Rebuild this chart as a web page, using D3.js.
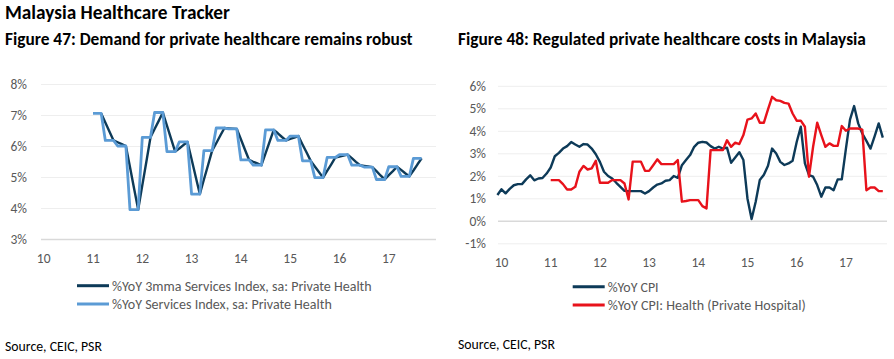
<!DOCTYPE html>
<html><head><meta charset="utf-8">
<script src="https://cdn.jsdelivr.net/npm/d3@7"></script>
<style>
body{margin:0;background:#fff;}
svg text{font-family: Carlito, Lato, "Open Sans", sans-serif;}
</style></head><body>
<svg id="c" width="894" height="359"></svg>
<script>
// ---------- DATA ----------
const yearLabels = ["10","11","12","13","14","15","16","17"];
const leftYTicks = [3,4,5,6,7,8];
const rightYTicks = [-1,0,1,2,3,4,5,6];

// Figure 47 (monthly, from Jan 2011)
const servicesStart = "2011-01";
const services3mma = [null,null,7.05,6.76,6.47,6.18,6.12,6.06,6.00,5.32,4.63,3.95,
  4.73,5.50,6.28,6.55,6.81,7.08,6.66,6.24,5.82,5.92,6.03,6.13,
  5.57,5.01,4.45,4.92,5.38,5.85,6.09,6.34,6.58,6.57,6.56,6.55,
  6.22,5.88,5.55,5.49,5.44,5.38,5.76,6.14,6.52,6.41,6.29,6.18,
  6.23,6.27,6.32,6.05,5.79,5.52,5.34,5.16,4.98,5.20,5.41,5.63,
  5.66,5.69,5.72,5.61,5.49,5.38,5.36,5.34,5.32,5.19,5.05,4.92,
  5.06,5.19,5.33,5.23,5.12,5.02,5.21,5.41,5.60];
const servicesIdx = [7.05,7.05,7.05,6.18,6.18,6.18,6.00,6.00,6.00,3.95,3.95,3.95,
  6.28,6.28,6.28,7.08,7.08,7.08,5.82,5.82,5.82,6.13,6.13,6.13,
  4.45,4.45,4.45,5.85,5.85,5.85,6.58,6.58,6.58,6.55,6.55,6.55,
  5.55,5.55,5.55,5.38,5.38,5.38,6.52,6.52,6.52,6.18,6.18,6.18,
  6.32,6.32,6.32,5.52,5.52,5.52,4.98,4.98,4.98,5.63,5.63,5.63,
  5.72,5.72,5.72,5.38,5.38,5.38,5.32,5.32,5.32,4.92,4.92,4.92,
  5.33,5.33,5.33,5.02,5.02,5.02,5.60,5.60,5.60];

// Figure 48 (monthly)
const cpiStart = "2009-12";
const cpi = [1.15,
  1.40,1.22,1.42,1.58,1.63,1.63,1.84,2.02,1.80,1.88,1.90,2.10,
  2.37,2.87,3.02,3.21,3.32,3.50,3.39,3.29,3.41,3.39,3.21,2.96,
  2.62,2.18,1.99,1.88,1.69,1.51,1.33,1.32,1.32,1.32,1.32,1.21,
  1.32,1.48,1.61,1.66,1.78,1.81,1.99,1.91,2.47,2.70,2.92,3.29,
  3.47,3.51,3.48,3.32,3.21,3.29,3.21,3.25,2.58,2.81,3.05,2.70,
  0.98,0.08,0.85,1.81,2.05,2.45,3.21,2.99,2.62,2.48,2.55,2.67,
  3.50,4.18,2.55,2.03,1.96,1.59,1.07,1.48,1.48,1.36,1.84,1.84,
  3.20,4.50,5.10,4.33,3.88,3.55,3.21,3.75,4.33,3.70];
const hospStart = "2011-01";
const cpiHospital = [1.81,1.81,1.81,1.63,1.39,1.39,1.51,2.18,2.44,2.28,2.33,2.67,
  1.69,1.69,1.69,1.81,1.81,1.81,1.66,0.95,2.63,2.63,2.63,2.22,
  2.22,2.47,2.73,2.52,2.52,2.52,2.52,2.70,0.85,0.88,0.92,0.92,
  0.92,0.65,0.55,3.14,3.14,3.14,3.14,3.58,3.29,3.47,3.41,3.81,
  4.50,4.55,4.77,4.36,4.36,4.95,5.51,5.36,5.33,5.24,5.21,4.77,
  4.45,4.45,4.18,1.96,3.29,4.36,3.81,3.29,3.44,3.33,3.33,4.21,
  4.00,4.10,4.10,4.10,4.05,1.36,1.48,1.48,1.32,1.32];

const legendLeft = ["%YoY 3mma Services Index, sa: Private Health","%YoY Services Index, sa: Private Health"];
const legendRight = ["%YoY CPI","%YoY CPI: Health (Private Hospital)"];

// ---------- HELPERS ----------
const mIdx = s => { const [y,m] = s.split("-").map(Number); return (y-2010)*12 + (m-1); };
const toPts = (arr, start) => arr.map((v,i)=>({m: mIdx(start)+i, v}));

const svg = d3.select("#c");
const C = {dark:"#0d3a58", light:"#5b9bd5", red:"#e8121b", grid:"#eeeeee", base:"#d9d9d9", tick:"#595959"};

function fitText(sel, target){
  const n = sel.node(); const fs = parseFloat(sel.style("font-size"));
  const w = n.getComputedTextLength();
  if (w>0) sel.style("font-size", (fs*target/w)+"px");
  return sel;
}

// Titles
fitText(svg.append("text").attr("x",5).attr("y",19).style("font-weight","bold").style("font-size","18px").text("Malaysia Healthcare Tracker"),225);
fitText(svg.append("text").attr("x",5).attr("y",45).style("font-weight","bold").style("font-size","16px").text("Figure 47: Demand for private healthcare remains robust"),408);
fitText(svg.append("text").attr("x",458).attr("y",45).style("font-weight","bold").style("font-size","16px").text("Figure 48: Regulated private healthcare costs in Malaysia"),408);

function panel(o){
  const g = svg.append("g");
  const x = d3.scaleLinear().domain([0,96]).range([o.x0, o.x0 + 96*o.mw]);
  const y = d3.scaleLinear().domain(o.yDomain).range(o.yRange);
  const ax = d3.axisLeft(y).tickValues(o.yTicks).tickSize(-(o.gx1-o.gx0)).tickPadding(o.gx0-o.labR).tickFormat(d=>d+"%");
  const ag = g.append("g").attr("transform",`translate(${o.gx0},0)`).call(ax);
  ag.select(".domain").remove();
  ag.selectAll(".tick line").attr("stroke",d=>d===o.baseV?C.base:C.grid).attr("stroke-width",d=>d===o.baseV?1.6:1);
  ag.selectAll(".tick text").attr("fill",C.tick).style("font-size","13.5px");
  g.selectAll(".xl").data(yearLabels).join("text").attr("class","xl")
    .attr("x",d=>x((+d-10)*12)).attr("y",o.xLabY).attr("text-anchor","middle")
    .attr("fill",C.tick).style("font-size","13.5px").text(d=>d);
  const line = d3.line().defined(d=>d.v!==null).x(d=>x(d.m)).y(d=>y(d.v));
  o.series.forEach(s=>{
    g.append("path").datum(s.pts).attr("fill","none").attr("stroke",s.color)
      .attr("stroke-width",s.w).attr("stroke-linejoin","round").attr("d",line);
  });
  o.legend.forEach((t,i)=>{
    const ly = o.legY[i];
    g.append("line").attr("x1",o.legX).attr("x2",o.legX+32).attr("y1",ly).attr("y2",ly)
      .attr("stroke",o.series[i].color).attr("stroke-width",3);
    fitText(g.append("text").attr("x",o.legX+35).attr("y",ly).attr("dy","0.35em")
      .attr("fill",C.tick).style("font-size","13px").text(t), o.legW[i]);
  });
}

panel({x0:43.7, mw:4.108, yDomain:[3,8], yRange:[239,84], yTicks:leftYTicks, baseV:3,
  gx0:41, gx1:436, labR:27, xLabY:262.5,
  series:[{pts:toPts(services3mma,servicesStart),color:C.dark,w:2.4},
          {pts:toPts(servicesIdx,servicesStart),color:C.light,w:2.8}],
  legend:legendLeft, legX:77, legY:[285.7,304], legW:[260,220]});

panel({x0:501.5, mw:4.1, yDomain:[-1,6], yRange:[243.3,85.8], yTicks:rightYTicks, baseV:0,
  gx0:498, gx1:887, labR:486, xLabY:267,
  series:[{pts:toPts(cpi,cpiStart),color:C.dark,w:2.4},
          {pts:toPts(cpiHospital,hospStart),color:C.red,w:2.4}],
  legend:legendRight, legX:572.7, legY:[286.7,305], legW:[51,198]});

fitText(svg.append("text").attr("x",5).attr("y",351).style("font-size","13px").attr("fill","#000").text("Source, CEIC, PSR"),97);
fitText(svg.append("text").attr("x",458).attr("y",349).style("font-size","13px").attr("fill","#000").text("Source, CEIC, PSR"),97);
</script></body></html>
